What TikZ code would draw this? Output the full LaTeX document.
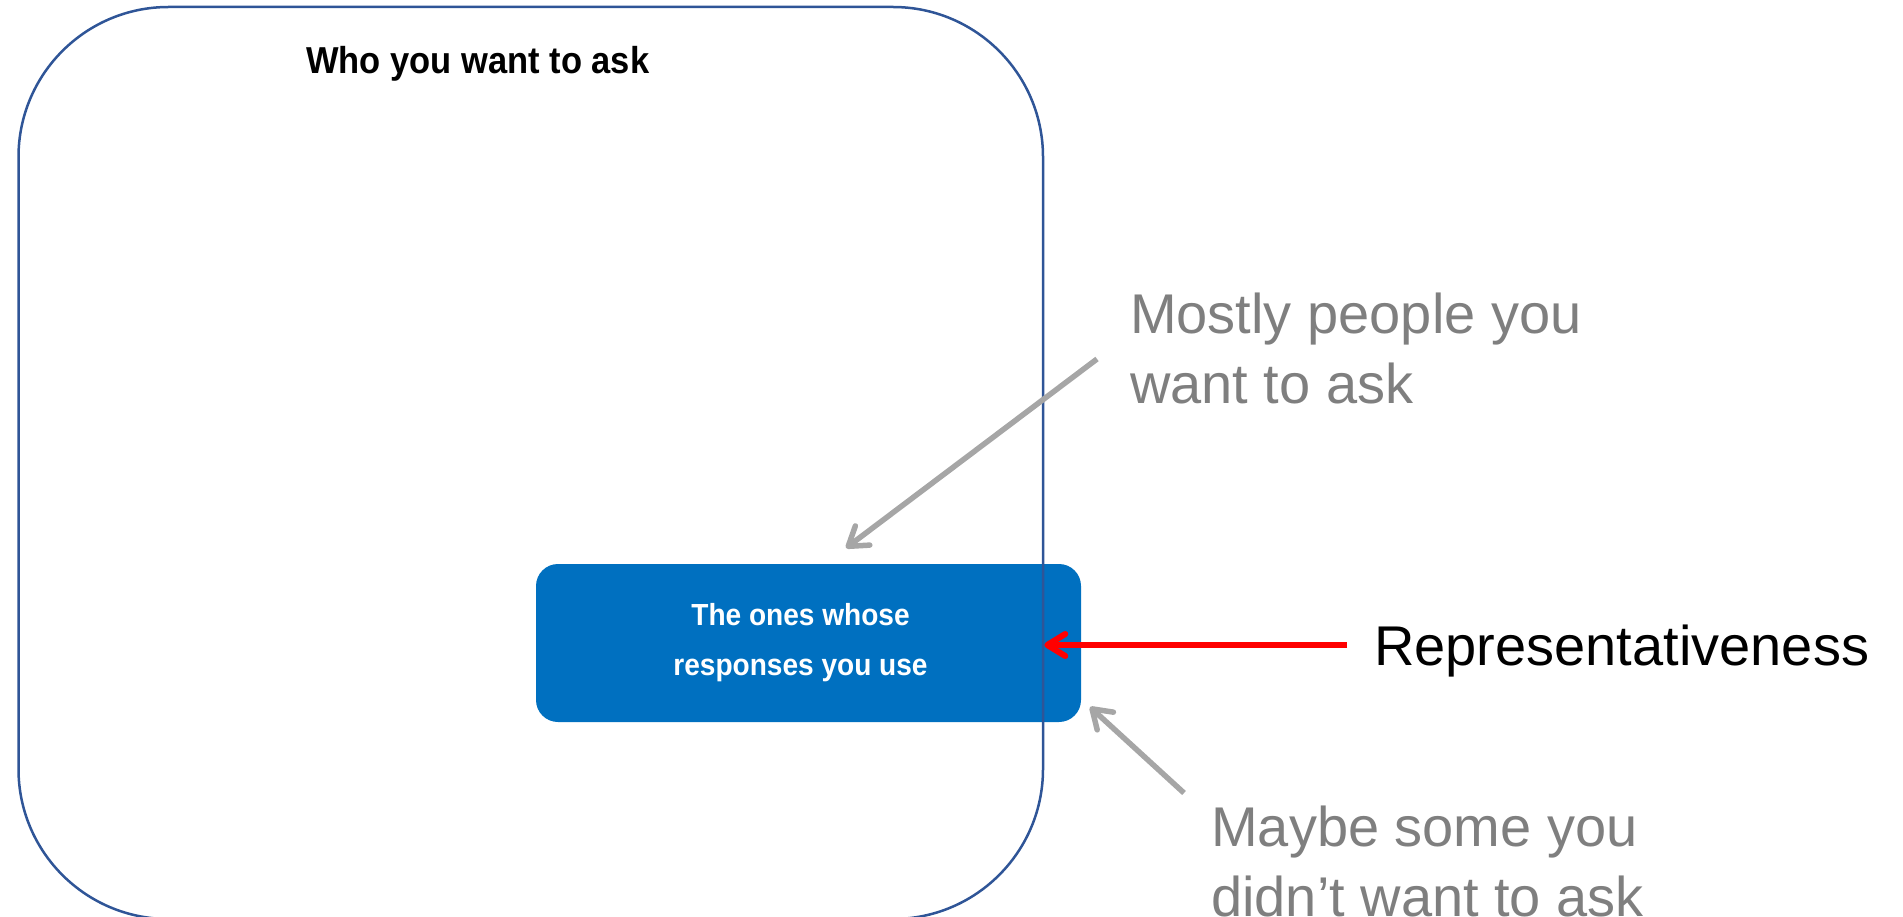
\documentclass[tikz,border=0pt]{standalone}
\usepackage{fontspec}
\setmainfont{Liberation Sans}
\newfontfamily\headfont[FakeStretch=0.92]{Liberation Sans Bold}
\usetikzlibrary{arrows.meta,calc}

\definecolor{frameblue}{RGB}{47,85,151}
\definecolor{fillblue}{RGB}{0,112,192}
\definecolor{notegray}{RGB}{127,127,127}
\definecolor{arrowgray}{RGB}{166,166,166}
\definecolor{alertred}{RGB}{255,0,0}

\begin{document}
\begin{tikzpicture}[x=1pt,y=-1pt,
  frame/.style={draw=frameblue, line width=2.5pt, rounded corners=150pt,
    minimum width=1024.5pt, minimum height=912pt, inner sep=0pt},
  subset/.style={fill=fillblue, rounded corners=22pt, minimum width=545pt,
    minimum height=158pt, inner sep=0pt, text=white, align=center,
    font=\headfont\fontsize{30.5}{50}\selectfont},
  heading/.style={anchor=base west, inner sep=0pt,
    font=\headfont\fontsize{37.5}{45}\selectfont},
  note/.style={anchor=base west, inner sep=0pt, align=left, text=notegray,
    font=\fontsize{56}{70}\selectfont},
  keyterm/.style={anchor=base west, inner sep=0pt,
    font=\fontsize{56}{70}\selectfont},
  pointer/.style={draw=arrowgray, line width=5.5pt,
    -{Straight Barb[length=18pt,width=24pt,round]}},
  alert/.style={draw=alertred, line width=6pt,
    -{Straight Barb[length=18pt,width=22pt,round]}}
]
\useasboundingbox (0,0) rectangle (1903,917);

% responses actually used
\node[subset] (used) at (808.5,643) {The ones whose\hspace*{16pt}\\responses you use\hspace*{16pt}};

% target population
\node[frame] (who) at (530.75,463) {};
\node[heading] (whotitle) at (306,74) {Who you want to ask};

% side notes (base anchor sits on the last line)
\node[note] (mostly) at (1130,403) {Mostly people you\\want to ask};
\node[keyterm] (rep) at (1374,665) {Representativeness};
\node[note] (maybe) at (1211,916) {Maybe some you\\didn’t want to ask};

% connectors
\coordinate (mostlyfrom) at (1097,359);
\coordinate (mostlyto) at (846,548);
\draw[pointer] (mostlyfrom) -- (mostlyto);

\coordinate (maybefrom) at (1184,793);
\coordinate (maybeto) at (1090,707);
\draw[pointer] (maybefrom) -- (maybeto);

\coordinate (repfrom) at ($(rep.base west)+(-27,-20)$);
\draw[alert] (repfrom) -- (repfrom -| who.east);
\end{tikzpicture}
\end{document}
